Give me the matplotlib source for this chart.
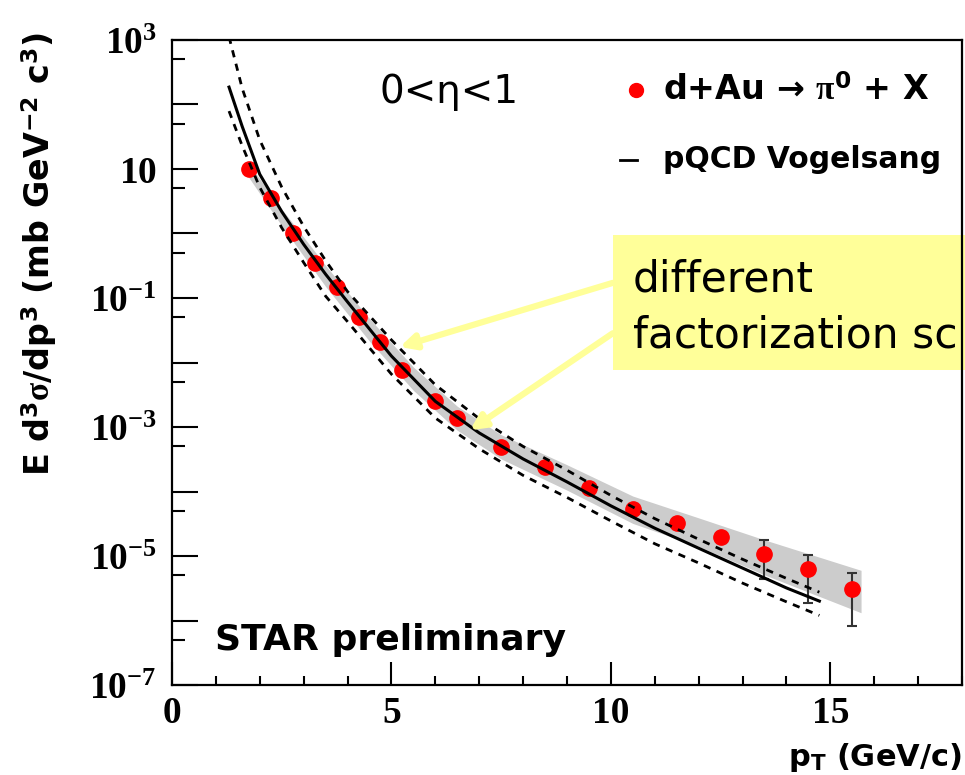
import matplotlib
matplotlib.use('Agg')
import matplotlib.pyplot as plt
from matplotlib.patches import Rectangle
from matplotlib.lines import Line2D
from matplotlib.ticker import FixedLocator, NullFormatter

plt.rcParams['mathtext.fontset'] = 'custom'
plt.rcParams['mathtext.rm'] = 'Liberation Serif:bold'
plt.rcParams['mathtext.bf'] = 'Liberation Serif:bold'
plt.rcParams['mathtext.it'] = 'Liberation Serif:italic:bold'
plt.rcParams['mathtext.sf'] = 'DejaVu Sans:bold'

# ---- datos: d+Au -> pi0 + X, 0<eta<1 ----
pt = [1.75, 2.25, 2.75, 3.25, 3.75, 4.25, 4.75, 5.25, 6.0, 6.5,
      7.5, 8.5, 9.5, 10.5, 11.5, 12.5, 13.5, 14.5, 15.5]
xsec = [10, 3.5, 1.0, 0.35, 0.148, 0.051, 0.021, 0.0076, 0.0025, 0.00138,
        4.9e-4, 2.4e-4, 1.13e-4, 5.4e-5, 3.2e-5, 2.0e-5, 1.07e-5, 6.3e-6, 3.1e-6]

# barras de error visibles (solo los ultimos puntos)
err_pt = [13.5, 14.5, 15.5]
err_low = [4.4e-6, 1.86e-6, 8.2e-7]
err_high = [1.78e-5, 1.04e-5, 5.5e-6]

# banda sistematica (gris)
band_pt = [1.75, 2.5, 3.5, 4.5, 5.5, 6.5, 7.5, 9.0, 10.5, 12.0, 13.5, 15.7]
band_lo = [7.4, 1.32, 0.151, 0.0214, 3.7e-3, 8.9e-4, 3.2e-4, 1.05e-4, 3.2e-5, 1.41e-5, 5.1e-6, 1.32e-6]
band_hi = [12, 2.4, 0.32, 0.048, 8.5e-3, 2.1e-3, 7.6e-4, 2.6e-4, 8.5e-5, 3.9e-5, 1.78e-5, 6.0e-6]

# pQCD Vogelsang (central y variaciones de escala)
theory_pt = [1.3, 1.6, 2.0, 2.5, 3.0, 3.5, 4.0, 5.0, 6.0, 7.0, 8.0, 9.0,
             10.0, 11.0, 12.0, 13.0, 14.0, 14.75]
pqcd = [186, 45.7, 8.3, 2.19, 0.68, 0.234, 0.087, 0.0126, 2.5e-3, 8.1e-4, 3.2e-4,
        1.41e-4, 6.0e-5, 2.7e-5, 1.32e-5, 6.5e-6, 3.2e-6, 2.0e-6]
pqcd_hi = [1120, 178, 28.2, 5.25, 1.29, 0.38, 0.126, 0.0224, 4.5e-3, 1.35e-3, 5.0e-4,
           2.14e-4, 8.7e-5, 3.8e-5, 1.82e-5, 8.9e-6, 4.5e-6, 2.75e-6]
pqcd_lo = [79, 22.9, 5.2, 1.23, 0.355, 0.107, 0.043, 6.6e-3, 1.38e-3, 4.6e-4, 1.78e-4,
           8.1e-5, 3.5e-5, 1.55e-5, 7.8e-6, 3.8e-6, 1.95e-6, 1.2e-6]

y_major = [10.0 ** k for k in range(-7, 4)]
y_labels = {3: '$10^{3}$', 1: '$10$', -1: '$10^{-1}$', -3: '$10^{-3}$',
            -5: '$10^{-5}$', -7: '$10^{-7}$'}
y_minor = [5 * 10.0 ** k for k in range(-7, 3)]

fig = plt.figure(figsize=(9.65, 7.75), dpi=100)
ax = fig.add_axes([0.1782, 0.1161, 0.8187, 0.8323])

ax.fill_between(band_pt, band_lo, band_hi, color='#cccccc', lw=0, zorder=1)

err_mid = [xsec[pt.index(p)] for p in err_pt]
yerr = [[m - lo for m, lo in zip(err_mid, err_low)],
        [hi - m for m, hi in zip(err_mid, err_high)]]
ax.errorbar(err_pt, err_mid, yerr=yerr, fmt='none', ecolor='#333333',
            elinewidth=1.5, capsize=3.5, capthick=1.5, zorder=2)
ax.plot(pt, xsec, 'o', color='red', ms=11, mec='red', zorder=3)

ax.plot(theory_pt, pqcd, color='black', lw=2.2, zorder=4)
for curva in (pqcd_hi, pqcd_lo):
    ax.plot(theory_pt, curva, color='black', lw=2, dashes=(2.6, 2.4), zorder=4)

ax.set_yscale('log')
ax.set_xlim(0, 18)
ax.set_ylim(1e-7, 1e3)

ax.xaxis.set_major_locator(FixedLocator([0, 5, 10, 15]))
ax.xaxis.set_minor_locator(FixedLocator(range(0, 19)))
ax.yaxis.set_major_locator(FixedLocator(y_major))
ax.yaxis.set_minor_locator(FixedLocator(y_minor))
ax.yaxis.set_minor_formatter(NullFormatter())
ax.set_yticklabels([y_labels.get(k, '') for k in range(-7, 4)])
ax.set_xticklabels(['0', '5', '10', '15'], fontfamily='Liberation Serif', fontweight='bold')

ax.tick_params(which='both', direction='in', top=False, right=False, width=1.5, labelsize=27)
ax.tick_params(axis='x', which='major', length=16.5, pad=8)
ax.tick_params(axis='x', which='minor', length=6.5)
ax.tick_params(axis='y', which='major', length=18.5, pad=11)
ax.tick_params(axis='y', which='minor', length=9.5)
for s in ax.spines.values():
    s.set_linewidth(1.6)
    s.set_zorder(6)

sans = ['DejaVu Sans']
ax.text(-0.168, 1.012, r'E d$^{\mathsf{3}}\mathrm{\sigma}$/dp$^{\mathsf{3}}$ (mb GeV$^{\mathsf{-2}}$ c$^{\mathsf{3}}$)',
        rotation=90, ha='center', va='top', transform=ax.transAxes,
        fontsize=24, fontweight='bold', family=sans)
ax.text(1.0, -0.112, r'p$_{\mathsf{T}}$ (GeV/c)', ha='right', va='center',
        transform=ax.transAxes, fontsize=22, fontweight='bold', family=sans)

ax.text(0.055, 0.07, 'STAR preliminary', ha='left', va='center', transform=ax.transAxes,
        fontsize=26, fontweight='bold', family=sans)
ax.text(0.263, 0.919, '0<η<1', ha='left', va='center', transform=ax.transAxes,
        fontsize=28, family='DejaVu Sans')

# leyenda manual
ax.plot([0.587], [0.922], 'o', color='red', ms=10, transform=ax.transAxes, clip_on=False)
ax.text(0.622, 0.922, r'd+Au → $\mathrm{\pi}^{\mathsf{0}}$ + X', ha='left', va='center',
        transform=ax.transAxes, fontsize=24, fontweight='bold', family=sans)
ax.add_line(Line2D([0.567, 0.589], [0.814, 0.814], color='black', lw=2, transform=ax.transAxes))
ax.text(0.622, 0.814, 'pQCD Vogelsang', ha='left', va='center',
        transform=ax.transAxes, fontsize=21.5, fontweight='bold', family=sans)

# recuadro amarillo con flechas
amarillo = '#ffff99'
ax.add_patch(Rectangle((613 / 965, 1 - 370 / 775), (965 - 613) / 965, (370 - 235) / 775,
                       transform=fig.transFigure, facecolor=amarillo, edgecolor='none',
                       clip_on=False, zorder=5))
fig.text(633 / 965, 1 - 279 / 775, 'different', ha='left', va='center', fontsize=30.5,
         family='DejaVu Sans')
fig.text(633 / 965, 1 - 335 / 775, 'factorization sc', ha='left', va='center', fontsize=30.5,
         family='DejaVu Sans')
for tip, start in (((5.19, 0.0174), (0.635, 0.635)), ((6.79, 8.9e-4), (0.635, 0.570))):
    ax.annotate('', xy=tip, xycoords='data', xytext=start, textcoords='figure fraction',
                arrowprops=dict(arrowstyle='-|>,head_length=0.9,head_width=0.45',
                                color=amarillo, lw=4.5, shrinkA=0, shrinkB=0), zorder=5)

fig.savefig('out.png', dpi=100)
